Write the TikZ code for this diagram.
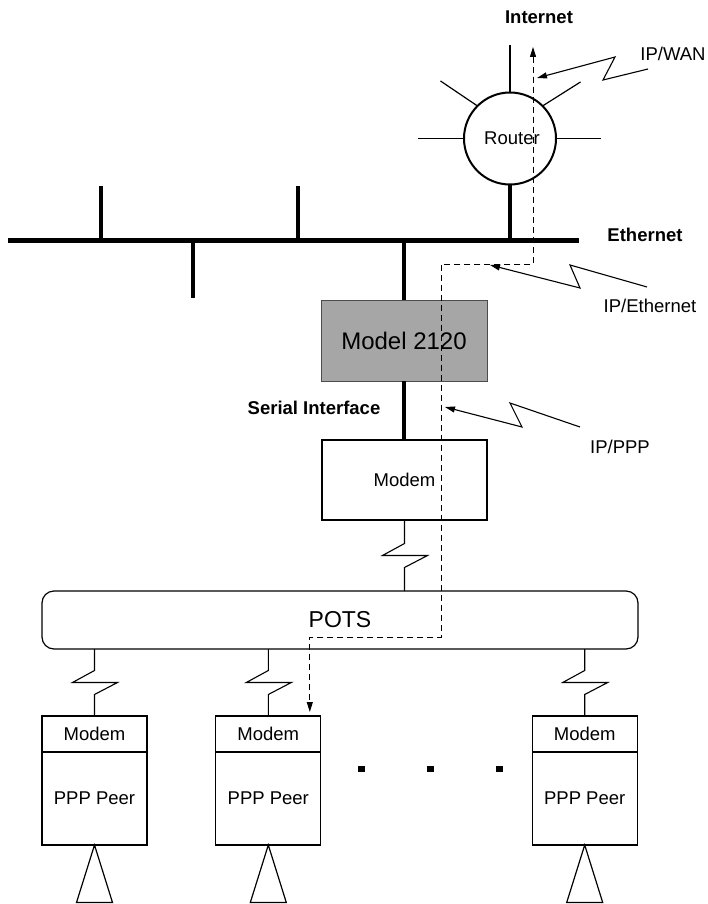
\documentclass[tikz,border=0pt]{standalone}
\usepackage{fontspec}
\setmainfont{Liberation Sans}
\usetikzlibrary{arrows.meta,positioning,calc}

\begin{document}
\begin{tikzpicture}[x=1pt, y=-1pt, >={Triangle[length=10pt,width=6pt]},
  every node/.style={font=\fontsize{18.5}{22}\selectfont, inner sep=0pt, outer sep=0pt},
  bus/.style={line width=5pt},
  tap/.style={line width=4.5pt},
  thinline/.style={line width=1.2pt},
  box/.style={draw, line width=1.2pt, minimum width=105pt},
  flow/.style={dash pattern=on 6pt off 4pt, line width=1pt, <->},
  hint/.style={line width=1.1pt, ->},
  zig/.style={line width=1.1pt, to path={-- ($(\tikztostart)!.5!(\tikztotarget)+(0,-12)$) -- ++(-22,12) -- ++(45,0) -- ++(-23,12) -- (\tikztotarget)}},
  tag/.style={font=\bfseries\fontsize{18.5}{22}\selectfont}]
\useasboundingbox (0,0) rectangle (708,904);

% ethernet segment
\coordinate (busL) at (8,240);
\coordinate (busR) at (579,240);
\draw[bus] (busL) -- (busR);
\foreach \x in {101,298} \draw[tap] (\x,240) -- (\x,186);
\draw[tap] (193,240) -- (193,298);
\node[tag] (ether) at (645,235) {Ethernet};

% router
\node[circle, draw, line width=2pt, minimum size=92pt] (router) at (510,138.5) {\hspace{4pt}Router};
\draw[thinline] (router.north) -- ++(0,-47);
\draw[thinline] (router.west) -- ++(-46,0);
\draw[thinline] (router.east) -- ++(45,0);
\draw[thinline] (router.135) -- ++(-37,-25);
\draw[thinline] (router.45) -- ++(38,-24);
\draw[tap] (router.south) -- (router.south |- busR);
\node[tag] (inet) at (539,17) {Internet};

% access server and modem
\node[draw=black!70, fill=black!35, minimum width=166pt, minimum height=81pt, font=\fontsize{24}{28}\selectfont] (m2120) at (404,340.5) {Model 2120};
\draw[tap] (m2120.north) -- (m2120.north |- busR);
\node[box, minimum width=165pt, minimum height=80pt] (modem) at (404.5,480) {Modem};
\draw[tap] (m2120.south) -- (m2120.south |- modem.north);
\node[tag] (serial) at (314,408) {Serial Interface};

% phone network
\node[draw, rounded corners=12pt, line width=1.2pt, minimum width=596pt, minimum height=58pt, font=\fontsize{23}{27}\selectfont] (pots) at (340,620) {POTS};
\draw[zig] (modem.south) to (modem.south |- pots.north);

% dial-in peers
\foreach \x/\n in {94.5/a,268.3/b,584.7/c} {
  \node[box, minimum height=36pt] (m\n) at (\x,734) {Modem};
  \node[box, minimum height=93pt, below=0pt of m\n] (p\n) {PPP Peer};
  \draw[zig] (m\n.north |- pots.south) to (m\n.north);
  \draw[thinline] (p\n.south) -- ++(-18,57.5) -- ++(36,0) -- cycle;
}
\foreach \x in {361,430,499} \fill (\x-3.5,766) rectangle (\x+3.5,772);

% packet path
\coordinate (wan) at (533,47);
\coordinate (peer) at ([xshift=-11pt,yshift=4pt]mb.north east);
\draw[flow] (wan) |- (441,264) -- (441,637) -| (peer);

% layer labels
\node (wanlbl) at (673,54) {IP/WAN};
\node (ethlbl) at (650,306) {IP/Ethernet};
\node (ppplbl) at (620,447) {IP/PPP};
\coordinate (wanS) at (648,69);
\coordinate (wanE) at (537,78);
\coordinate (ethS) at (647,287);
\coordinate (ethE) at (490,265);
\coordinate (pppS) at (580,427);
\coordinate (pppE) at (445,407);
\draw[hint] (wanS) -- (603,80) -- (615,57) -- (wanE);
\draw[hint] (ethS) -- (570,265) -- (580,288) -- (ethE);
\draw[hint] (pppS) -- (510,403) -- (522,427) -- (pppE);
\end{tikzpicture}
\end{document}
